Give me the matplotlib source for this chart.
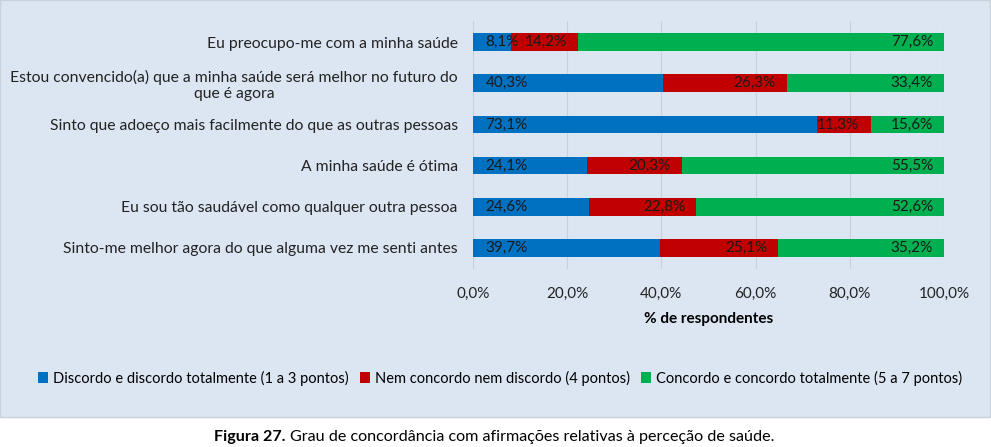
"""stacked 100% bar chart: agreement with statements on health perception (figura 27)"""
import matplotlib
import numpy as np

matplotlib.use("Agg")
import matplotlib.pyplot as plt  # noqa: E402
from matplotlib.patches import Rectangle  # noqa: E402

plt.rcParams["font.family"] = ["Lato", "DejaVu Sans"]

# statements, top to bottom as in the figure
statements = [
    "Eu preocupo-me com a minha saúde",
    "Estou convencido(a) que a minha saúde será melhor no futuro do\nque é agora",
    "Sinto que adoeço mais facilmente do que as outras pessoas",
    "A minha saúde é ótima",
    "Eu sou tão saudável como qualquer outra pessoa",
    "Sinto-me melhor agora do que alguma vez me senti antes",
]
discordo = [8.1, 40.3, 73.1, 24.1, 24.6, 39.7]
neutro = [14.2, 26.3, 11.3, 20.3, 22.8, 25.1]
concordo = [77.6, 33.4, 15.6, 55.5, 52.6, 35.2]
series_names = [
    "Discordo e discordo totalmente (1 a 3 pontos)",
    "Nem concordo nem discordo (4 pontos)",
    "Concordo e concordo totalmente (5 a 7 pontos)",
]
xticks = [0, 20, 40, 60, 80, 100]
caption_bold = "Figura 27."
caption_text = "Grau de concordância com afirmações relativas à perceção de saúde."

COLORS = ["#0070C0", "#C00000", "#00B050"]
BG = "#DCE6F2"


def fmt(v):
    return f"{v:.1f}%".replace(".", ",")


fig = plt.figure(figsize=(9.91, 4.47), dpi=100)
fig.patches.append(Rectangle((0.0, 1 - 417 / 447), 990 / 991, 417 / 447, transform=fig.transFigure,
                             facecolor=BG, edgecolor="#C9D1DB", lw=1.0, zorder=-5))

ax = fig.add_axes([473 / 991, 1 - 268.6 / 447, 471 / 991, 247.2 / 447])
ax.set_facecolor("none")

y = np.arange(len(statements))[::-1]
d, n, c = np.array(discordo), np.array(neutro), np.array(concordo)
h = 0.43
bars_d = ax.barh(y, d, h, color=COLORS[0], label=series_names[0], zorder=3)
bars_n = ax.barh(y, n, h, left=d, color=COLORS[1], label=series_names[1], zorder=3)
bars_c = ax.barh(y, c, h, left=d + n, color=COLORS[2], label=series_names[2], zorder=3)

lab_kw = dict(fontsize=11, color="#1a1a1a", va="center", zorder=4)
for i in range(len(y)):
    ax.annotate(fmt(d[i]), (0, y[i]), xytext=(9, 0), textcoords="offset points", ha="left", **lab_kw)
    ax.annotate(fmt(n[i]), (d[i] + n[i], y[i]), xytext=(-8, 0), textcoords="offset points",
                ha="right", **lab_kw)
    ax.annotate(fmt(c[i]), (100, y[i]), xytext=(-8, 0), textcoords="offset points", ha="right", **lab_kw)

ax.set_xlim(0, 100)
ax.set_ylim(-0.5, len(statements) - 0.5)
ax.set_xticks(xticks)
ax.set_xticklabels([fmt(v) for v in xticks], fontsize=11, color="#222222")
ax.set_yticks(y)
ax.set_yticklabels(statements, fontsize=11.3, color="#222222")
for lbl in ax.get_yticklabels():
    lbl.set_multialignment("center")
ax.tick_params(axis="both", length=0)
ax.tick_params(axis="y", pad=11)
ax.tick_params(axis="x", pad=13)
ax.set_xlabel("% de respondentes", fontsize=11, fontweight="bold", labelpad=8)
ax.grid(axis="x", color="#C8D0DA", lw=0.8, zorder=0)
ax.set_axisbelow(True)
for s in ax.spines.values():
    s.set_visible(False)

fig.legend(handles=[bars_d, bars_n, bars_c], loc="center", bbox_to_anchor=(500 / 991, 1 - 378 / 447),
           ncol=3, frameon=False, fontsize=10.5, handlelength=0.7, handleheight=0.7,
           handletextpad=0.3, columnspacing=0.8)

fig.text(286 / 991, 1 - 437 / 447, caption_bold, ha="right", va="center", fontsize=11.6,
         fontweight="bold")
fig.text(290 / 991, 1 - 437 / 447, caption_text, ha="left", va="center", fontsize=11.6)

fig.savefig("out.png", dpi=100)
